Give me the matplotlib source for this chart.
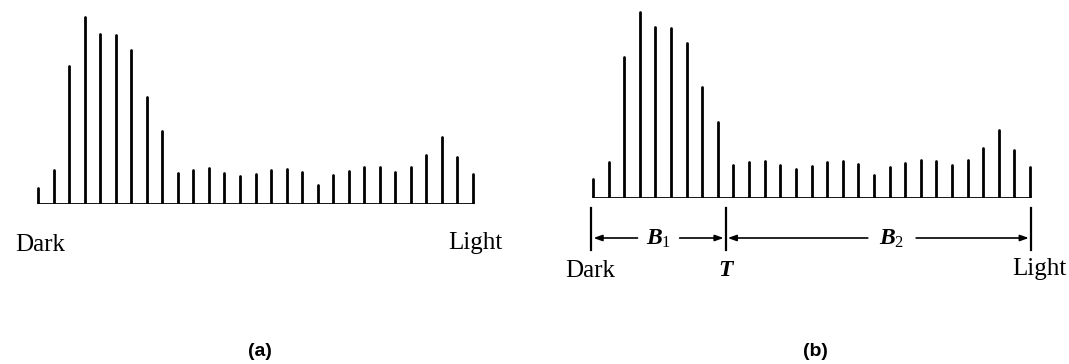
import matplotlib
matplotlib.use("Agg")
import matplotlib.pyplot as plt

# Gray-level histogram, one count per bin from dark to light
hist_a = [47, 102, 415, 560, 510, 508, 462, 322, 220, 92, 102, 108, 92, 85, 90,
          102, 105, 97, 57, 88, 100, 112, 110, 97, 110, 147, 200, 140, 90]
hist_b = [57, 108, 423, 558, 512, 509, 465, 332, 227, 98, 107, 110, 100, 88, 95,
          108, 110, 102, 68, 93, 105, 115, 110, 98, 115, 150, 205, 143, 93]

# Threshold T, placed between the dark peak and the light bins
threshold = 8.5
region_labels = ["$B_1$", "$B_2$"]
end_labels = ["Dark", "Light"]
panel_labels = ["(a)", "(b)"]

plt.rcParams["mathtext.fontset"] = "custom"
plt.rcParams["mathtext.it"] = "Liberation Serif:italic:bold"
plt.rcParams["mathtext.rm"] = "Liberation Serif"

W, H = 1069, 364
fig = plt.figure(figsize=(W / 100, H / 100), dpi=100)


def rect(left, base, width, height):
    return [left / W, (H - base) / H, width / W, height / H]


def draw_hist(ax, counts, ymax):
    n = len(counts)
    xs = list(range(n))
    ax.vlines(xs, 0, counts, colors="black", lw=2.0, capstyle="round")
    ax.hlines(0, 0, n - 1, colors="black", lw=2.0, capstyle="round")
    ax.set_xlim(-0.5, n - 0.5)
    ax.set_ylim(0, ymax)
    ax.axis("off")


serif = "Liberation Serif"
end_size = 18
panel_size = 14

# Panel (a)
ax_a = fig.add_axes(rect(30.2, 204, 450.6, 200))
draw_hist(ax_a, hist_a, 600)
fig.text(15 / W, 1 - 245 / H, end_labels[0], family=serif, fontsize=end_size,
         ha="left", va="center")
fig.text(502 / W, 1 - 243 / H, end_labels[1], family=serif, fontsize=end_size,
         ha="right", va="center")
fig.text(260 / W, 1 - 352 / H, panel_labels[0], family="Liberation Sans",
         fontweight="bold", fontsize=panel_size, ha="center", va="center")

# Panel (b)
ax_b = fig.add_axes(rect(585.2, 198, 452.7, 198))
draw_hist(ax_b, hist_b, 594)
n = len(hist_b)
x0, x1 = -0.1, n - 1 + 0.05
tick_top, tick_bot, arrow_y = -30, -156, -120
for xv in (x0, threshold, x1):
    ax_b.plot([xv, xv], [tick_top, tick_bot], color="black", lw=1.6,
              clip_on=False)

b1_x = (x0 + threshold) / 2
b2_x = 19.15
gap = 1.35
arrow_kw = dict(arrowstyle="-|>,head_length=0.5,head_width=0.18",
                color="black", lw=1.2, shrinkA=0, shrinkB=1.5)
segments = [(b1_x - gap, x0), (b1_x + gap, threshold),
            (b2_x - gap - 0.2, threshold), (b2_x + gap + 0.2, x1)]
for start, end in segments:
    ax_b.annotate("", xy=(end, arrow_y), xytext=(start, arrow_y),
                  arrowprops=arrow_kw, annotation_clip=False)
ax_b.text(b1_x, arrow_y, region_labels[0], fontsize=17, ha="center",
          va="center")
ax_b.text(b2_x, arrow_y, region_labels[1], fontsize=17, ha="center",
          va="center")
ax_b.text(threshold, -218, "T", family=serif, style="italic",
          fontweight="bold", fontsize=17, ha="center", va="center")

fig.text(565 / W, 1 - 271 / H, end_labels[0], family=serif, fontsize=end_size,
         ha="left", va="center")
fig.text(1066 / W, 1 - 269 / H, end_labels[1], family=serif, fontsize=end_size,
         ha="right", va="center")
fig.text(815 / W, 1 - 352 / H, panel_labels[1], family="Liberation Sans",
         fontweight="bold", fontsize=panel_size, ha="center", va="center")

fig.savefig("out.png", dpi=100, facecolor="white")
